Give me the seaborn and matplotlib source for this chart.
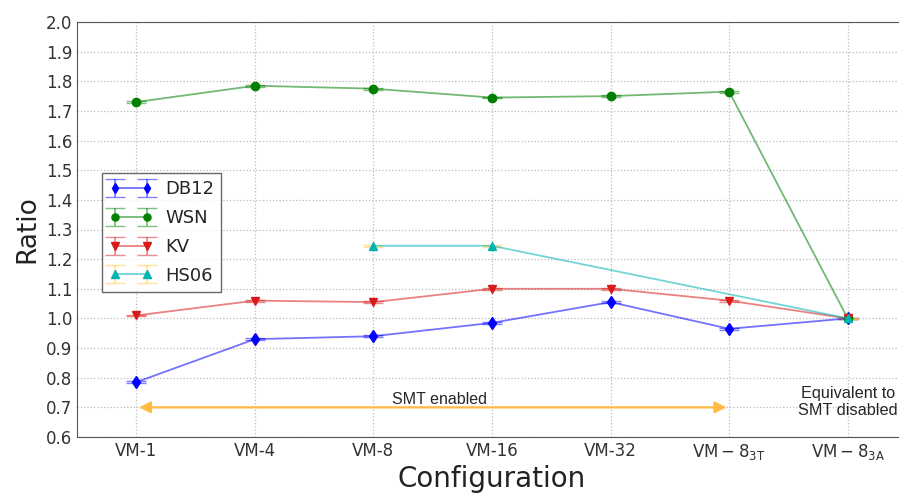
import numpy as np
import matplotlib
matplotlib.use('Agg')
import matplotlib.pyplot as plt
import seaborn as sns

configs = ['VM-1', 'VM-4', 'VM-8', 'VM-16', 'VM-32',
           r'$\mathrm{VM}-8_{\mathrm{3T}}$', r'$\mathrm{VM}-8_{\mathrm{3A}}$']

db12 = [0.785, 0.93, 0.94, 0.985, 1.055, 0.965, 1.0]
wsn = [1.73, 1.785, 1.775, 1.745, 1.75, 1.765, 1.0]
kv = [1.01, 1.06, 1.055, 1.10, 1.10, 1.06, 1.0]
hs06_idx = [2, 3, 6]
hs06 = [1.245, 1.245, 1.0]
err = 0.003

sns.set_style('white')
plt.rcParams['mathtext.fontset'] = 'dejavusans'
plt.rcParams['font.family'] = ['DejaVu Sans']

fig = plt.figure(figsize=(8.99, 4.93), dpi=100)
ax = fig.add_axes([77 / 899, 56 / 493, 830 / 899, 415 / 493])

x = np.arange(len(configs))
series = [
    ('DB12', x, db12, 'd', (0, 0, 1)),
    ('WSN', x, wsn, 'o', (0, 0.5, 0)),
    ('KV', x, kv, 'v', (0.85, 0.1, 0.1)),
    ('HS06', np.array(hs06_idx), hs06, '^', (0, 0.7, 0.7)),
]
for name, xs, ys, mk, c in series:
    ax.errorbar(xs, ys, yerr=err, fmt='-', marker=mk, color=c + (0.55,),
                mfc=c, mec=c, ms=6, lw=1.3, capsize=7,
                ecolor=(1.0, 0.85, 0.4, 0.7) if name == 'HS06' else c + (0.5,),
                label=name)

ax.annotate('', xy=(0, 0.7), xytext=(5, 0.7),
            arrowprops=dict(arrowstyle='<|-|>', color='#ffbb44', lw=1.6,
                            mutation_scale=17))
ax.text(2.56, 0.725, 'SMT enabled', ha='center', va='center', fontsize=11.5,
        family='Liberation Sans')
ax.text(6.0, 0.718, 'Equivalent to\nSMT disabled', ha='center', va='center',
        fontsize=11.7, linespacing=1.2, family='Liberation Sans')

ax.set_xlim(-0.5, 6.5)
ax.set_ylim(0.6, 2.0)
ax.set_yticks(np.arange(0.6, 2.01, 0.1))
ax.set_yticklabels([f'{v:.1f}' for v in np.arange(0.6, 2.01, 0.1)])
ax.set_xticks(x)
ax.set_xticklabels(configs)
ax.tick_params(axis='x', labelsize=12.5)
ax.tick_params(labelsize=12, direction='in', length=4, colors='#333333')
ax.grid(True, ls=':', color='#bbbbbb', lw=0.9)
for s in ax.spines.values():
    s.set_color('#555555')
ax.spines['right'].set_visible(False)

ax.set_xlabel('Configuration', fontsize=20, color='#222222', labelpad=2)
ax.set_ylabel('Ratio', fontsize=19, color='#222222')

leg = ax.legend(loc='upper left', bbox_to_anchor=(0.030, 0.636), fontsize=13,
                frameon=True, fancybox=False, edgecolor='#444444',
                numpoints=2, markerscale=0.85, handlelength=2.4,
                handletextpad=0.7, borderpad=0.4, labelspacing=0.6,
                borderaxespad=0)
leg.get_frame().set_linewidth(1.0)

fig.savefig('out.png', dpi=100)
